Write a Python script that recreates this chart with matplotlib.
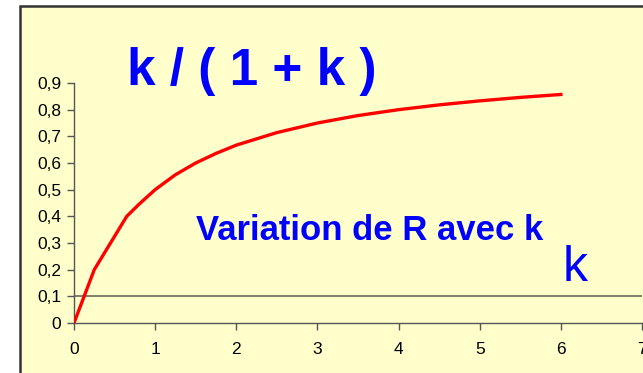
import matplotlib
matplotlib.use('Agg')
import matplotlib.pyplot as plt
from matplotlib.patches import Rectangle
from matplotlib.ticker import FuncFormatter

# --- données ---
k_vals = [0, 0.25, 0.65, 0.8, 1.0, 1.25, 1.5, 1.75, 2.0, 2.5, 3.0, 3.5, 4.0, 4.5, 5.0, 5.5, 6.0]
r_vals = [0, 0.20, 0.40, 0.445, 0.50, 0.556, 0.60, 0.636, 0.667, 0.714, 0.75, 0.778,
          0.80, 0.818, 0.833, 0.846, 0.857]
seuil = 0.1
x_ticks = [0, 1, 2, 3, 4, 5, 6, 7]
y_ticks = [0, 0.1, 0.2, 0.3, 0.4, 0.5, 0.6, 0.7, 0.8, 0.9]

bg = '#FFFFCC'
bleu = '#0000FF'

plt.rcParams['font.family'] = ['Liberation Sans', 'DejaVu Sans']

fig = plt.figure(figsize=(6.43, 3.73), dpi=100)
fig.patch.set_facecolor('white')

# cadre jaune (coupé à droite et en bas)
W, H = 643, 373
fig.patches.append(Rectangle((20 / W, -0.1), 1.2, (H - 6) / H + 0.1,
                             transform=fig.transFigure, facecolor=bg,
                             edgecolor='#333333', linewidth=1.8, zorder=-5))

ax = fig.add_axes([74 / W, (H - 323) / H, 568 / W, 240 / H])
ax.set_zorder(2)
ax.set_facecolor('none')
ax.plot(k_vals, r_vals, color='#FF0000', lw=2.4, solid_joinstyle='miter', zorder=3)
ax.axhline(seuil, color='#6b6b5a', lw=1.2, zorder=2)

ax.set_xlim(0, 7)
ax.set_ylim(0, 0.9)
ax.set_xticks(x_ticks)
ax.set_yticks(y_ticks)
ax.yaxis.set_major_formatter(FuncFormatter(lambda v, p: ('%g' % round(v, 1)).replace('.', ',')))
for s in ['top', 'right']:
    ax.spines[s].set_visible(False)
for s in ['left', 'bottom']:
    ax.spines[s].set_color('#555555')
    ax.spines[s].set_linewidth(1.0)
ax.tick_params(direction='out', length=5, width=1, color='#555555', labelsize=12.5,
               labelcolor='black')
ax.tick_params(axis='x', pad=9)
ax.tick_params(axis='y', pad=4)

fig.text(252 / W, 1 - 71 / H, 'k / ( 1 + k )', color=bleu, fontsize=37,
         fontweight='bold', ha='center', va='center', zorder=5)
fig.text(196 / W, 1 - 231 / H, 'Variation de R avec k', color=bleu, fontsize=25,
         fontweight='bold', ha='left', va='center', zorder=5)
fig.text(575 / W, 1 - 268 / H, 'k', color=bleu, fontsize=36,
         ha='center', va='center', zorder=5)

fig.savefig('out.png', dpi=100, facecolor=fig.get_facecolor())
